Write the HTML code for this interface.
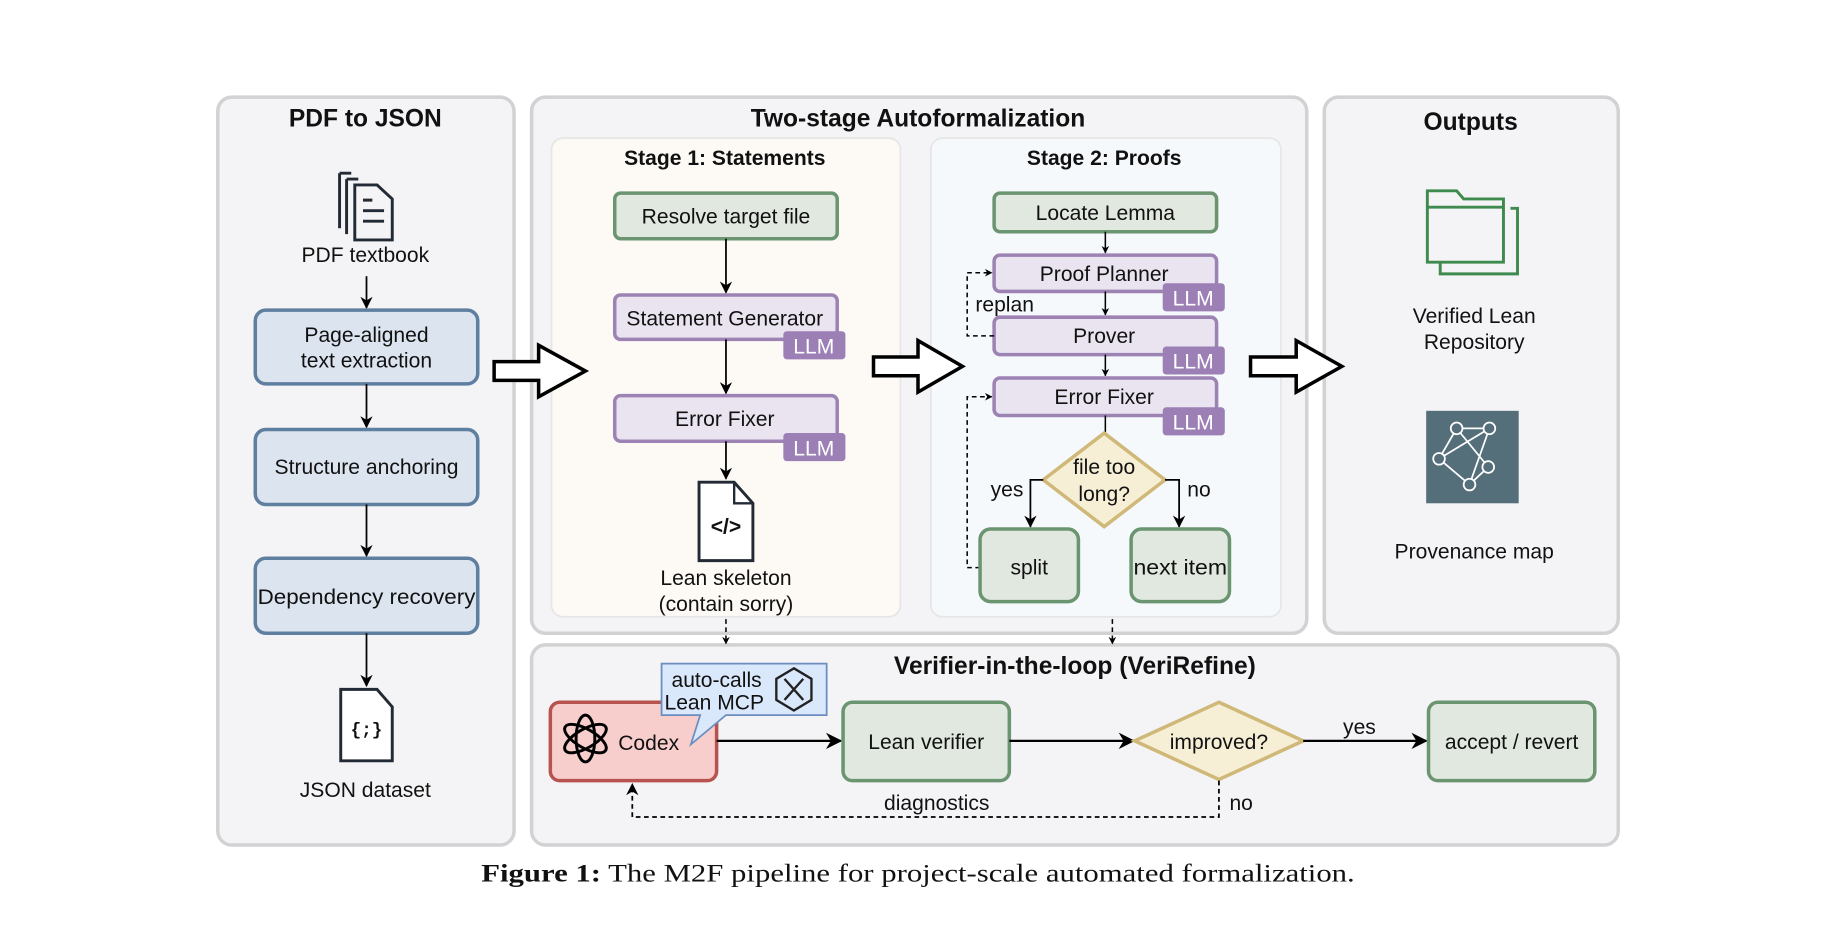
<!DOCTYPE html>
<html><head><meta charset="utf-8"><style>
html,body{margin:0;padding:0;background:#fff;}
svg{display:block;}
text{font-family:"Liberation Sans",Arial,sans-serif;fill:#111;}
.t{font-size:18px;text-anchor:middle;}
.b{font-weight:bold;}
.llm{font-size:18px;fill:#fff;text-anchor:middle;}
</style></head><body>
<svg width="1836" height="934" viewBox="0 0 1568 798" preserveAspectRatio="none" xmlns="http://www.w3.org/2000/svg">
<defs>
<marker id="a" viewBox="0 0 10 10" refX="9" refY="5" markerWidth="7" markerHeight="7" orient="auto"><path d="M0,0 L10,5 L0,10 L3,5 z" fill="#000"/></marker>
<marker id="as" viewBox="0 0 10 10" refX="9" refY="5" markerWidth="5" markerHeight="5" orient="auto"><path d="M0,0 L10,5 L0,10 L3,5 z" fill="#000"/></marker>
</defs>
<rect width="1568" height="798" fill="#fff"/>
<rect x="186" y="83" width="253" height="639" rx="12" fill="#f4f4f6" stroke="#d2d2d4" stroke-width="3"/>
<rect x="454" y="83" width="662" height="458" rx="12" fill="#f4f4f6" stroke="#d2d2d4" stroke-width="3"/>
<rect x="1131" y="83" width="251" height="458" rx="12" fill="#f4f4f6" stroke="#d2d2d4" stroke-width="3"/>
<rect x="454" y="551" width="928" height="171" rx="12" fill="#f4f4f6" stroke="#d2d2d4" stroke-width="3"/>
<rect x="471" y="118" width="298" height="409" rx="10" fill="#fdfaf6" stroke="#e6e6e6" stroke-width="1.5"/>
<rect x="795" y="118" width="299" height="409" rx="10" fill="#f6f9fc" stroke="#e6e6e6" stroke-width="1.5"/>
<text x="312" y="108" class="t b" style="font-size:21px">PDF to JSON</text>
<text x="784" y="108" class="t b" style="font-size:21px">Two-stage Autoformalization</text>
<text x="1256" y="111" class="t b" style="font-size:21px">Outputs</text>
<text x="918" y="576" class="t b" style="font-size:21px">Verifier-in-the-loop (VeriRefine)</text>
<text x="619" y="141" class="t b">Stage 1: Statements</text>
<text x="943" y="141" class="t b">Stage 2: Proofs</text>
<g fill="none" stroke="#222a35" stroke-width="2.5">
<path d="M290,148 V195 M290,148 H300"/>
<path d="M296,153 V200 M296,153 H306"/>
<path d="M303,158 H322 L335,170 V205 H303 Z"/>
<path d="M310,171 H318 M310,180 H328 M310,189 H328"/>
</g>
<text x="312" y="224" class="t">PDF textbook</text>
<line x1="313" y1="236" x2="313" y2="263" stroke="#000" stroke-width="1.5" marker-end="url(#a)"/>
<rect x="218" y="265" width="190" height="63" rx="9" fill="#dce4ef" stroke="#5f7fa0" stroke-width="3"/>
<text x="313" y="292" class="t">Page-aligned</text><text x="313" y="314" class="t">text extraction</text>
<line x1="313" y1="328" x2="313" y2="365" stroke="#000" stroke-width="1.5" marker-end="url(#a)"/>
<rect x="218" y="367" width="190" height="64" rx="9" fill="#dce4ef" stroke="#5f7fa0" stroke-width="3"/>
<text x="313" y="405" class="t">Structure anchoring</text>
<line x1="313" y1="431" x2="313" y2="475" stroke="#000" stroke-width="1.5" marker-end="url(#a)"/>
<rect x="218" y="477" width="190" height="64" rx="9" fill="#dce4ef" stroke="#5f7fa0" stroke-width="3"/>
<text x="313" y="516" class="t" textLength="186" lengthAdjust="spacingAndGlyphs">Dependency recovery</text>
<line x1="313" y1="541" x2="313" y2="586" stroke="#000" stroke-width="1.5" marker-end="url(#a)"/>
<path d="M291,589 H322 L335,604 V650 H291 Z" fill="#fff" stroke="#222a35" stroke-width="2.5"/>
<text x="313" y="628" class="t b" style="font-size:15px;font-family:'Liberation Mono',monospace">{;}</text>
<text x="312" y="681" class="t">JSON dataset</text>
<g fill="#fff" stroke="#000" stroke-width="3">
<path d="M422,309 H460 V295 L500,317 L460,339 V325 H422 Z"/>
<path d="M746,305 H784 V291 L822,313 L784,335 V321 H746 Z"/>
<path d="M1068,305 H1107 V291 L1146,313 L1107,335 V321 H1068 Z"/>
</g>
<rect x="525" y="165" width="190" height="39" rx="5" fill="#e1e8df" stroke="#6b9470" stroke-width="3"/>
<text x="620" y="191" class="t">Resolve target file</text>
<line x1="620" y1="204" x2="620" y2="250" stroke="#000" stroke-width="1.5" marker-end="url(#a)"/>
<rect x="525" y="252" width="190" height="38" rx="5" fill="#e9e4ef" stroke="#9c83b4" stroke-width="3"/>
<text x="619" y="278" class="t">Statement Generator</text>
<rect x="669" y="283" width="53" height="24" rx="3" fill="#9b7fb5"/><text x="695" y="302" class="llm">LLM</text>
<line x1="620" y1="290" x2="620" y2="336" stroke="#000" stroke-width="1.5" marker-end="url(#a)"/>
<rect x="525" y="338" width="190" height="39" rx="5" fill="#e9e4ef" stroke="#9c83b4" stroke-width="3"/>
<text x="619" y="364" class="t">Error Fixer</text>
<rect x="669" y="370" width="53" height="24" rx="3" fill="#9b7fb5"/><text x="695" y="389" class="llm">LLM</text>
<line x1="620" y1="377" x2="620" y2="409" stroke="#000" stroke-width="1.5" marker-end="url(#a)"/>
<path d="M597,412 H627 L643,430 V479 H597 Z" fill="#fff" stroke="#222a35" stroke-width="2.5"/>
<path d="M627,412 V430 H643" fill="none" stroke="#222a35" stroke-width="2"/>
<text x="620" y="456" class="t b" style="font-size:18px">&lt;/&gt;</text>
<text x="620" y="500" class="t">Lean skeleton</text>
<text x="620" y="522" class="t">(contain sorry)</text>
<rect x="849" y="165" width="190" height="33" rx="5" fill="#e1e8df" stroke="#6b9470" stroke-width="3"/>
<text x="944" y="188" class="t">Locate Lemma</text>
<line x1="944" y1="198" x2="944" y2="216" stroke="#000" stroke-width="1.3" marker-end="url(#as)"/>
<rect x="849" y="218" width="190" height="31" rx="5" fill="#e9e4ef" stroke="#9c83b4" stroke-width="3"/>
<text x="943" y="240" class="t">Proof Planner</text>
<rect x="993" y="242" width="53" height="24" rx="3" fill="#9b7fb5"/><text x="1019" y="261" class="llm">LLM</text>
<line x1="944" y1="249" x2="944" y2="269" stroke="#000" stroke-width="1.3" marker-end="url(#as)"/>
<rect x="849" y="271" width="190" height="32" rx="5" fill="#e9e4ef" stroke="#9c83b4" stroke-width="3"/>
<text x="943" y="293" class="t">Prover</text>
<rect x="993" y="296" width="53" height="24" rx="3" fill="#9b7fb5"/><text x="1019" y="315" class="llm">LLM</text>
<line x1="944" y1="303" x2="944" y2="321" stroke="#000" stroke-width="1.3" marker-end="url(#as)"/>
<rect x="849" y="323" width="190" height="32" rx="5" fill="#e9e4ef" stroke="#9c83b4" stroke-width="3"/>
<text x="943" y="345" class="t">Error Fixer</text>
<rect x="993" y="348" width="53" height="24" rx="3" fill="#9b7fb5"/><text x="1019" y="367" class="llm">LLM</text>
<line x1="944" y1="355" x2="944" y2="370" stroke="#000" stroke-width="1.3"/>
<path d="M849,287 H826 V233 H847" fill="none" stroke="#000" stroke-width="1.3" stroke-dasharray="4,3" marker-end="url(#as)"/>
<text x="833" y="266" style="font-size:18px">replan</text>
<path d="M837,485 H826 V339 H847" fill="none" stroke="#000" stroke-width="1.3" stroke-dasharray="4,3" marker-end="url(#as)"/>
<path d="M943,370 L995,410 L943,450 L891,410 Z" fill="#f6efd6" stroke="#cfb878" stroke-width="3"/>
<text x="943" y="405" class="t">file too</text><text x="943" y="428" class="t">long?</text>
<path d="M891,410 H880 V450" fill="none" stroke="#000" stroke-width="1.5" marker-end="url(#a)"/>
<path d="M995,410 H1007 V450" fill="none" stroke="#000" stroke-width="1.5" marker-end="url(#a)"/>
<text x="860" y="424" class="t">yes</text><text x="1024" y="424" class="t">no</text>
<rect x="837" y="452" width="84" height="62" rx="9" fill="#e1e8df" stroke="#6b9470" stroke-width="3"/>
<text x="879" y="491" class="t">split</text>
<rect x="966" y="452" width="84" height="62" rx="9" fill="#e1e8df" stroke="#6b9470" stroke-width="3"/>
<text x="1008" y="491" class="t" textLength="80" lengthAdjust="spacingAndGlyphs">next item</text>
<g fill="none" stroke="#3f8a4f" stroke-width="2.5">
<path d="M1230,178 V234 H1296 V178 H1290"/>
<path d="M1219,163 H1244 L1250,170 H1284 V224 H1219 Z" fill="#f4f4f6"/>
<path d="M1219,177 H1284"/>
</g>
<text x="1259" y="276" class="t">Verified Lean</text><text x="1259" y="298" class="t">Repository</text>
<rect x="1218" y="351" width="79" height="79" fill="#546e7a"/>
<g stroke="#fff" stroke-width="1.5" fill="#546e7a">
<path d="M1244,366 L1272,366 L1255,414 L1229,392 Z M1244,366 L1271,399 L1255,414 M1272,366 L1229,392" fill="none"/>
<circle cx="1244" cy="366" r="5"/><circle cx="1272" cy="366" r="5"/><circle cx="1229" cy="392" r="5"/><circle cx="1271" cy="399" r="5"/><circle cx="1255" cy="414" r="5"/>
</g>
<text x="1259" y="477" class="t">Provenance map</text>
<line x1="620" y1="529" x2="620" y2="550" stroke="#000" stroke-width="1.3" stroke-dasharray="4,3" marker-end="url(#as)"/>
<line x1="950" y1="529" x2="950" y2="550" stroke="#000" stroke-width="1.3" stroke-dasharray="4,3" marker-end="url(#as)"/>
<rect x="470" y="600" width="142" height="67" rx="8" fill="#f8cecc" stroke="#b85450" stroke-width="3"/>
<g fill="none" stroke="#000" stroke-width="2.5">
<ellipse cx="500" cy="631" rx="8" ry="20"/><ellipse cx="500" cy="631" rx="8" ry="20" transform="rotate(60 500 631)"/><ellipse cx="500" cy="631" rx="8" ry="20" transform="rotate(-60 500 631)"/>
</g>
<text x="554" y="641" class="t">Codex</text>
<path d="M565,567 H706 V611 H620 L590,636 L598,611 H565 Z" fill="#dae8fc" stroke="#6c8ebf" stroke-width="1.5"/>
<text x="612" y="587" class="t">auto-calls</text><text x="610" y="606" class="t">Lean MCP</text>
<path d="M678,571 L693,580 V598 L678,607 L663,598 V580 Z" fill="none" stroke="#222" stroke-width="2"/>
<path d="M670,580 L686,598 M686,580 L670,598" stroke="#222" stroke-width="2"/>
<line x1="612" y1="633" x2="718" y2="633" stroke="#000" stroke-width="2" marker-end="url(#a)"/>
<rect x="720" y="600" width="142" height="67" rx="8" fill="#e1e8df" stroke="#6b9470" stroke-width="3"/>
<text x="791" y="640" class="t">Lean verifier</text>
<line x1="862" y1="633" x2="968" y2="633" stroke="#000" stroke-width="2" marker-end="url(#a)"/>
<path d="M1041,600 L1113,633 L1041,666 L969,633 Z" fill="#f6efd6" stroke="#cfb878" stroke-width="3"/>
<text x="1041" y="640" class="t">improved?</text>
<line x1="1113" y1="633" x2="1218" y2="633" stroke="#000" stroke-width="2" marker-end="url(#a)"/>
<text x="1161" y="627" class="t">yes</text>
<rect x="1220" y="600" width="142" height="67" rx="8" fill="#e1e8df" stroke="#6b9470" stroke-width="3"/>
<text x="1291" y="640" class="t">accept / revert</text>
<path d="M1041,667 V698 H540 V670" fill="none" stroke="#000" stroke-width="1.5" stroke-dasharray="4,3" marker-end="url(#a)"/>
<text x="800" y="692" class="t">diagnostics</text>
<text x="1060" y="692" class="t">no</text>
<text x="411" y="753" textLength="746" lengthAdjust="spacingAndGlyphs" style="font-family:'Liberation Serif',serif;font-size:22px"><tspan font-weight="bold">Figure 1:</tspan> The M2F pipeline for project-scale automated formalization.</text>
</svg>
</body></html>
